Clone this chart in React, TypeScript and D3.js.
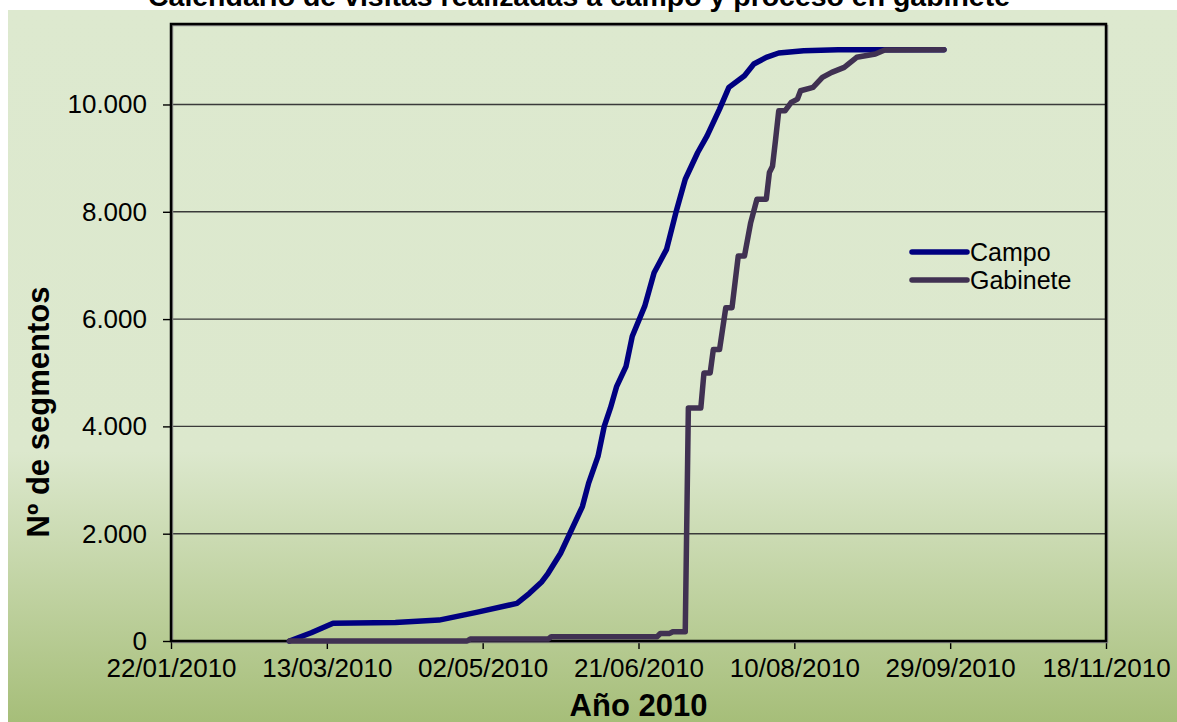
import { useRef, useEffect } from 'react'
import * as d3 from 'd3'

const campoDates = ['01/03/2010', '08/03/2010', '15/03/2010', '04/04/2010', '18/04/2010', '30/04/2010', '13/05/2010', '17/05/2010', '21/05/2010', '23/05/2010', '27/05/2010', '30/05/2010', '03/06/2010', '05/06/2010', '08/06/2010', '10/06/2010', '12/06/2010', '14/06/2010', '17/06/2010', '19/06/2010', '23/06/2010', '26/06/2010', '30/06/2010', '03/07/2010', '06/07/2010', '10/07/2010', '13/07/2010', '17/07/2010', '20/07/2010', '25/07/2010', '28/07/2010', '01/08/2010', '05/08/2010', '13/08/2010', '24/08/2010', '27/09/2010']
const campoValues = [0, 153, 329, 347, 390, 534, 702, 889, 1106, 1262, 1636, 2009, 2506, 2943, 3440, 4000, 4343, 4747, 5120, 5681, 6241, 6864, 7300, 7985, 8607, 9105, 9415, 9914, 10319, 10536, 10754, 10879, 10960, 11003, 11022, 11022]

const gabineteDates = ['01/03/2010', '27/04/2010', '28/04/2010', '23/05/2010', '24/05/2010', '27/06/2010', '28/06/2010', '01/07/2010', '02/07/2010', '06/07/2010', '07/07/2010', '11/07/2010', '12/07/2010', '14/07/2010', '15/07/2010', '17/07/2010', '19/07/2010', '21/07/2010', '23/07/2010', '25/07/2010', '27/07/2010', '29/07/2010', '01/08/2010', '02/08/2010', '03/08/2010', '04/08/2010', '05/08/2010', '07/08/2010', '09/08/2010', '11/08/2010', '12/08/2010', '16/08/2010', '19/08/2010', '22/08/2010', '26/08/2010', '30/08/2010', '05/09/2010', '08/09/2010', '27/09/2010']
const gabineteValues = [0, 0, 35, 35, 80, 80, 140, 142, 172, 172, 4343, 4343, 4997, 4997, 5432, 5432, 6211, 6211, 7175, 7175, 7798, 8233, 8233, 8732, 8850, 9354, 9882, 9882, 10039, 10101, 10256, 10319, 10506, 10599, 10692, 10879, 10941, 11016, 11022]

const xTickLabels = ['22/01/2010', '13/03/2010', '02/05/2010', '21/06/2010', '10/08/2010', '29/09/2010', '18/11/2010']
const yTickValues = [0, 2000, 4000, 6000, 8000, 10000]
const seriesNames = ['Campo', 'Gabinete']
const seriesColors = ['#000080', '#403152']

const W = 1177
const H = 722
const FONT = '"Liberation Sans", Arial, sans-serif'

const App = () => {
  const svgRef = useRef<SVGSVGElement>(null)

  useEffect(() => {
    const svg = d3.select(svgRef.current)
    svg.selectAll('*').remove()
    const parse = d3.timeParse('%d/%m/%Y')
    const fmt = d3.formatLocale({ decimal: ',', thousands: '.', grouping: [3], currency: ['', ''] }).format(',')

    const left = 171, right = 1106, top = 24, bottom = 641
    const x = d3.scaleTime()
      .domain([parse(xTickLabels[0])!, parse(xTickLabels[xTickLabels.length - 1])!])
      .range([left, right])
    const y = d3.scaleLinear().domain([0, 11500]).range([bottom, top])

    // background panel with gradient
    const grad = svg.append('defs').append('linearGradient')
      .attr('id', 'bg').attr('x1', 0).attr('y1', 0).attr('x2', 0).attr('y2', 1)
    grad.append('stop').attr('offset', 0).attr('stop-color', '#dde9cf')
    grad.append('stop').attr('offset', 0.62).attr('stop-color', '#dce8cd')
    grad.append('stop').attr('offset', 1).attr('stop-color', '#a6be79')
    svg.append('rect').attr('x', 8).attr('y', 10).attr('width', W - 8).attr('height', H - 10).attr('fill', 'url(#bg)')

    // title (clipped at top of page, as in the source)
    svg.append('text')
      .attr('x', 579).attr('y', 6)
      .attr('text-anchor', 'middle')
      .attr('font-family', FONT).attr('font-weight', 'bold').attr('font-size', 27)
      .attr('textLength', 862).attr('lengthAdjust', 'spacingAndGlyphs')
      .text('Calendario de visitas realizadas a campo y proceso en gabinete')

    // gridlines
    svg.append('g').selectAll('line')
      .data(yTickValues.filter((d) => d > 0))
      .join('line')
      .attr('x1', left).attr('x2', right)
      .attr('y1', (d) => y(d)).attr('y2', (d) => y(d))
      .attr('stroke', '#3a3a3a').attr('stroke-width', 1.4)

    // y axis
    const yAxis = svg.append('g')
      .attr('transform', `translate(${left},0)`)
      .call(d3.axisLeft(y).tickValues(yTickValues).tickFormat((d) => fmt(d as number)).tickSize(8).tickPadding(16))
    yAxis.select('.domain').remove()
    yAxis.selectAll('line').attr('stroke', '#000').attr('stroke-width', 1.4)
    yAxis.selectAll('text').attr('font-family', FONT).attr('font-size', 26).attr('fill', '#000')

    // x axis
    const xAxis = svg.append('g')
      .attr('transform', `translate(0,${bottom})`)
      .call(d3.axisBottom(x).tickValues(xTickLabels.map((s) => parse(s)!)).tickFormat((d) => d3.timeFormat('%d/%m/%Y')(d as Date)).tickSize(8).tickPadding(10))
    xAxis.select('.domain').remove()
    xAxis.selectAll('line').attr('stroke', '#000').attr('stroke-width', 1.4)
    xAxis.selectAll('text').attr('font-family', FONT).attr('font-size', 26).attr('fill', '#000')

    // frame
    svg.append('rect')
      .attr('x', left + 1.5).attr('y', top + 1.5).attr('width', right - left).attr('height', bottom - top)
      .attr('fill', 'none').attr('stroke', '#8a8a8a').attr('stroke-width', 1.5)
    svg.append('rect')
      .attr('x', left).attr('y', top).attr('width', right - left).attr('height', bottom - top)
      .attr('fill', 'none').attr('stroke', '#000').attr('stroke-width', 2.5)

    // series
    const line = d3.line<[Date, number]>().x((d) => x(d[0])).y((d) => y(d[1]))
    const series = [
      campoDates.map((d, i) => [parse(d)!, campoValues[i]] as [Date, number]),
      gabineteDates.map((d, i) => [parse(d)!, gabineteValues[i]] as [Date, number]),
    ]
    series.forEach((s, i) => {
      svg.append('path')
        .datum(s)
        .attr('d', line)
        .attr('fill', 'none')
        .attr('stroke', seriesColors[i])
        .attr('stroke-width', 5.5)
        .attr('stroke-linejoin', 'round')
        .attr('stroke-linecap', 'round')
    })

    // legend
    const lg = svg.append('g').attr('transform', 'translate(912,252)')
    seriesNames.forEach((name, i) => {
      lg.append('line')
        .attr('x1', 0).attr('x2', 55).attr('y1', i * 28).attr('y2', i * 28)
        .attr('stroke', seriesColors[i]).attr('stroke-width', 5.5).attr('stroke-linecap', 'round')
      lg.append('text')
        .attr('x', 58).attr('y', i * 28 + 9)
        .attr('font-family', FONT).attr('font-size', 25)
        .text(name)
    })

    // axis titles
    svg.append('text')
      .attr('x', (left + right) / 2).attr('y', 716)
      .attr('text-anchor', 'middle')
      .attr('font-family', FONT).attr('font-weight', 'bold').attr('font-size', 31)
      .text('Año 2010')
    svg.append('text')
      .attr('transform', `translate(49,412) rotate(-90)`)
      .attr('text-anchor', 'middle')
      .attr('font-family', FONT).attr('font-weight', 'bold').attr('font-size', 31)
      .text('Nº de segmentos')
  }, [])

  return (
    <svg ref={svgRef} width={W} height={H} style={{ position: 'absolute', left: 0, top: 0, display: 'block' }}></svg>
  )
}

export default App
